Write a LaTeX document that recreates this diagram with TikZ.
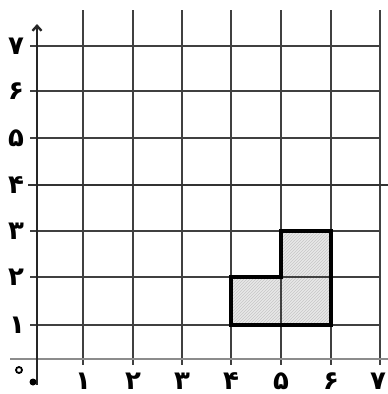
\documentclass[tikz,border=0pt]{standalone}
\usepackage{fontspec}
\newfontfamily\fa[Script=Arabic]{DejaVu Sans}
\usetikzlibrary{patterns,arrows.meta}
\begin{document}
\begin{tikzpicture}[x=1pt,y=-1pt,
  gridline/.style={draw=black!75,line width=1.6pt},
  lbl/.style={font=\fa\bfseries\fontsize{26}{26}\selectfont,text=black,inner sep=0pt},
  xlbl/.style={lbl,anchor=base},
  shapeline/.style={draw=black,line width=3.6pt,line join=miter}]
\useasboundingbox (0,0) rectangle (388,394);
\fill[white] (0,0) rectangle (388,394);
% shape fill
\fill[black!9] (231,325) -- (331,325) -- (331,231) -- (281,231) -- (281,277) -- (231,277) -- cycle;
\fill[pattern=north east lines,pattern color=black!22] (231,325) -- (331,325) -- (331,231) -- (281,231) -- (281,277) -- (231,277) -- cycle;
% vertical grid lines
\foreach \x in {83,133,182,231,281,331,380}
  \draw[gridline] (\x,10) -- (\x,365);
% horizontal grid lines
\foreach \y in {325,277,231,138,91,46}
  \draw[gridline] (30,\y) -- (380,\y);
\draw[draw=black!80,line width=2.6pt] (28,185) -- (388,185);
\draw[draw=black!45,line width=1.6pt] (10,359) -- (388,359);
% y axis
\draw[draw=black!85,line width=2.4pt,-{Straight Barb[length=5pt,width=9pt]}] (37,385) -- (37,24);
\fill[black] (33,382) circle (3.5pt);
% shape outline
\draw[shapeline] (231,325) -- (331,325) -- (331,231) -- (281,231) -- (281,277) -- (231,277) -- cycle;
% y labels
\node[lbl] (y7) at (16,46) {۷};
\node[lbl] (y6) at (16,91) {۶};
\node[lbl] (y5) at (16,138) {۵};
\node[lbl] (y4) at (16,185) {۴};
\node[lbl] (y3) at (16,231) {۳};
\node[lbl] (y2) at (16,277) {۲};
\node[lbl] (y1) at (17,325) {۱};
\node[circle,draw=black,line width=1.8pt,minimum size=6pt,inner sep=0pt] (y0) at (19,370) {};
% x labels
\node[xlbl] (x1) at (83,389) {۱};
\node[xlbl] (x2) at (133,389) {۲};
\node[xlbl] (x3) at (182,389) {۳};
\node[xlbl] (x4) at (231,389) {۴};
\node[xlbl] (x5) at (281,389) {۵};
\node[xlbl] (x6) at (331,389) {۶};
\node[xlbl] (x7) at (378,389) {۷};
\end{tikzpicture}
\end{document}
